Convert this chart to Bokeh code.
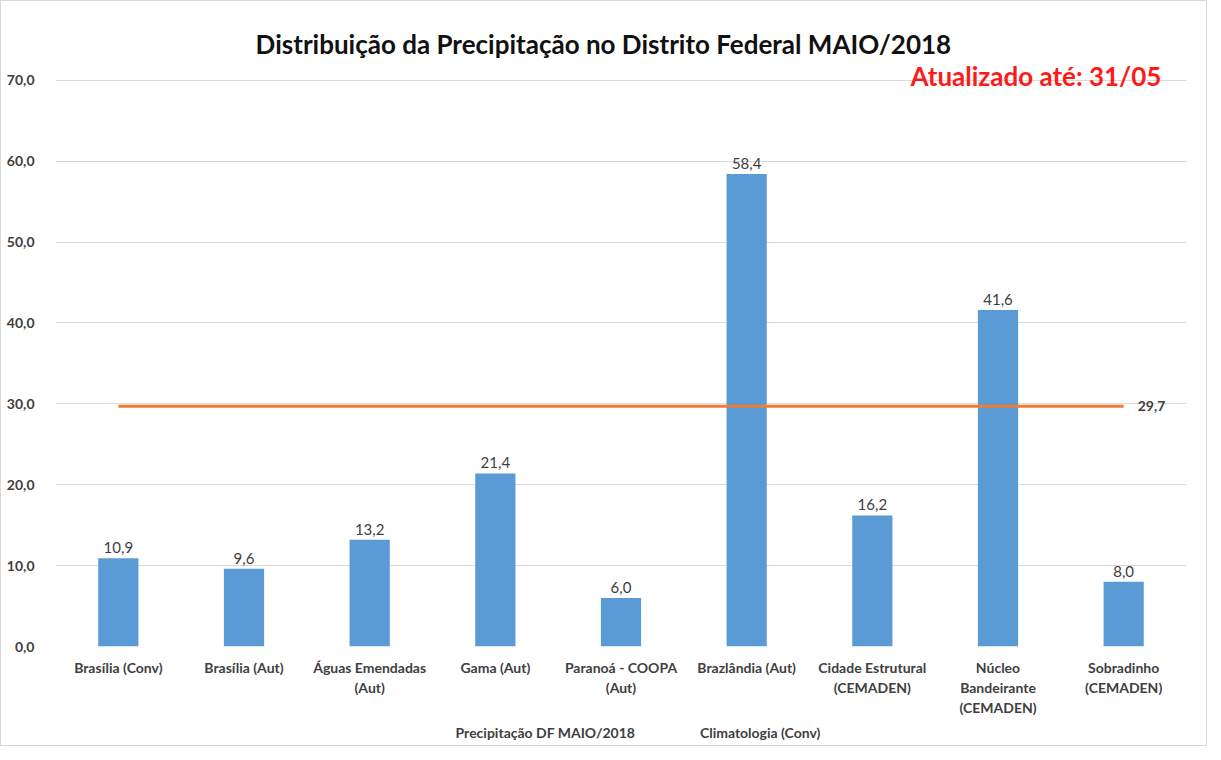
from bokeh.plotting import figure
from bokeh.layouts import column
from bokeh.models import Range1d, FixedTicker, Legend, LegendItem, ColumnDataSource
from bokeh.embed import file_html
from bokeh.resources import INLINE
from bokeh.core.properties import value

categories = ["Brasília (Conv)", "Brasília (Aut)", "Águas Emendadas\n(Aut)", "Gama (Aut)",
              "Paranoá - COOPA\n(Aut)", "Brazlândia (Aut)", "Cidade Estrutural\n(CEMADEN)",
              "Núcleo\nBandeirante\n(CEMADEN)", "Sobradinho\n(CEMADEN)"]
precip = [10.9, 9.6, 13.2, 21.4, 6.0, 58.4, 16.2, 41.6, 8.0]
climatology = 29.7
y_ticks = [0, 10, 20, 30, 40, 50, 60, 70]
title_text = "Distribuição da Precipitação no Distrito Federal MAIO/2018"
update_text = "Atualizado até: 31/05"
series_names = ["Precipitação DF MAIO/2018", "Climatologia (Conv)"]

FONT = "Lato"
TXT = "#404040"
BAR_COLOR = "#5B9BD5"
LINE_COLOR = "#ED7D31"

xs = [i + 0.5 for i in range(len(categories))]
labels = [f"{v:.1f}".replace(".", ",") for v in precip]
src = ColumnDataSource(dict(x=xs, top=precip, lab=labels))

p = figure(width=1205, height=718, output_backend="svg", toolbar_location=None,
           x_range=Range1d(0, len(categories)), y_range=Range1d(0, 78.5),
           min_border_left=54, min_border_right=20, min_border_top=10, min_border_bottom=73)
p.outline_line_color = None
p.background_fill_color = "white"

bars = p.vbar(x="x", top="top", width=0.32, source=src, fill_color=BAR_COLOR, line_color=None)
clim = p.line(x=[xs[0], xs[-1]], y=[climatology, climatology], line_color=LINE_COLOR, line_width=3)

p.text(x="x", y="top", text="lab", source=src, text_align="center", text_baseline="bottom",
       y_offset=-5, text_font=value(FONT), text_font_size="15px", text_color=TXT)
p.text(x=[xs[-1]], y=[climatology], text=[f"{climatology:.1f}".replace(".", ",")],
       x_offset=14, text_baseline="middle", text_font=value(FONT), text_font_size="14px",
       text_font_style="bold", text_color=TXT)

# titles drawn inside the (extended) frame
p.text(x=[4.36], y=[74.45], text=[title_text], text_align="center", text_baseline="middle",
       text_font=value(FONT), text_font_style="bold", text_font_size="26px", text_color="#111111")
p.text(x=[8.8], y=[70.5], text=[update_text], text_align="right", text_baseline="middle",
       text_font=value(FONT), text_font_style="bold", text_font_size="26px", text_color="#FF1A1A")

# axes
p.xaxis.ticker = FixedTicker(ticks=xs)
p.xaxis.major_label_overrides = {x: c for x, c in zip(xs, categories)}
p.xaxis.major_label_text_font = FONT
p.xaxis.major_label_text_font_style = "bold"
p.xaxis.major_label_text_font_size = "14px"
p.xaxis.major_label_text_color = TXT
p.xaxis.major_label_text_line_height = 1.18
p.xaxis.major_label_standoff = 6
p.xaxis.axis_line_color = None
p.xaxis.major_tick_line_color = None
p.xaxis.minor_tick_line_color = None

p.yaxis.ticker = FixedTicker(ticks=y_ticks)
p.yaxis.major_label_overrides = {t: f"{t:.1f}".replace(".", ",") for t in y_ticks}
p.yaxis.major_label_text_font = FONT
p.yaxis.major_label_text_font_style = "bold"
p.yaxis.major_label_text_font_size = "14px"
p.yaxis.major_label_text_color = TXT
p.yaxis.major_label_standoff = 15
p.yaxis.axis_line_color = None
p.yaxis.major_tick_line_color = None
p.yaxis.minor_tick_line_color = None

p.xgrid.grid_line_color = None
p.ygrid.grid_line_color = "#D9D9D9"
p.ygrid.grid_line_width = 1

# legend strip (a small figure whose frame is the whole canvas, so nothing is clipped)
lg = figure(width=1205, height=26, output_backend="svg", toolbar_location=None,
            x_range=Range1d(0, 1), y_range=Range1d(0, 1),
            min_border_left=24, min_border_right=0, min_border_top=0, min_border_bottom=0)
lg.axis.visible = False
lg.grid.visible = False
lg.outline_line_color = None
lg_bar = lg.vbar(x=[], top=[], width=0.3, fill_color=BAR_COLOR, line_color=None)
lg_line = lg.line(x=[], y=[], line_color=LINE_COLOR, line_width=3)

legend = Legend(items=[LegendItem(label=series_names[0], renderers=[lg_bar]),
                       LegendItem(label=series_names[1], renderers=[lg_line])],
                orientation="horizontal", location="center")
legend.border_line_color = None
legend.background_fill_alpha = 0
legend.padding = 0
legend.margin = 0
legend.spacing = 30
legend.glyph_width = 30
legend.glyph_height = 10
legend.label_standoff = 5
legend.label_height = 14
legend.label_text_font = FONT
legend.label_text_font_style = "bold"
legend.label_text_font_size = "14px"
legend.label_text_color = TXT
lg.add_layout(legend, "center")

layout = column(p, lg, spacing=0, styles={"border": "1px solid #D9D9D9"})

open("out.html", "w").write(file_html(layout, INLINE))
